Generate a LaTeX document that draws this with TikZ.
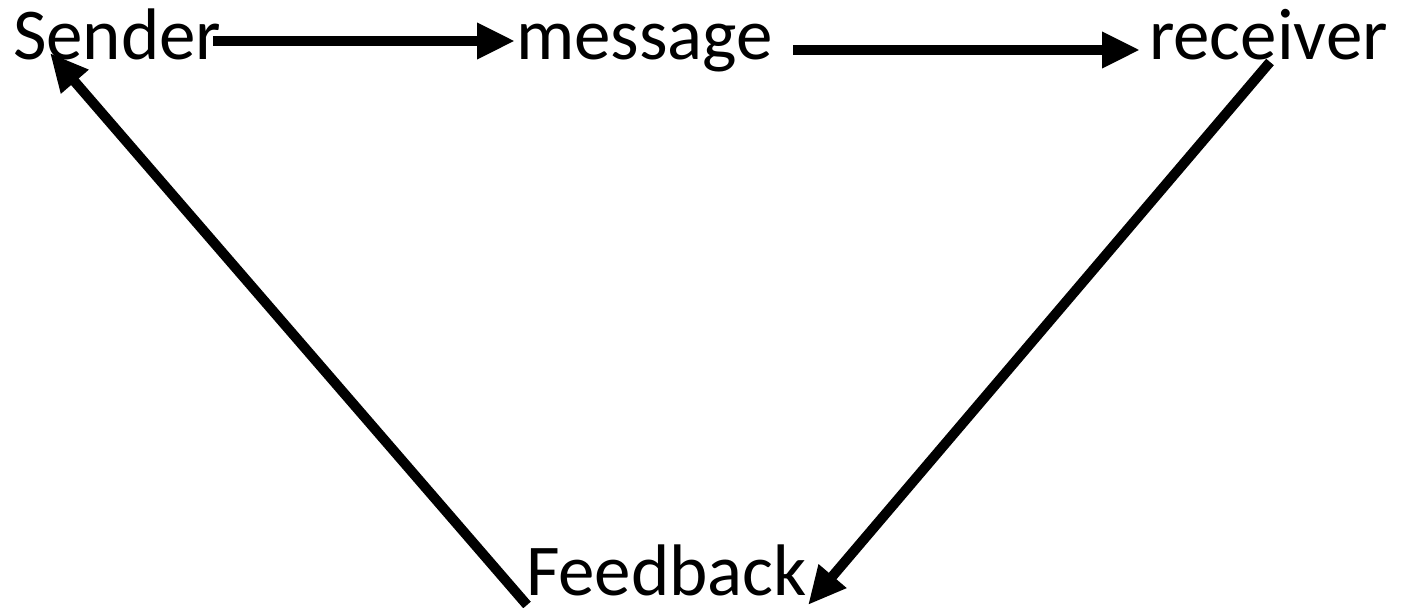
\documentclass[tikz,border=0pt]{standalone}
\usepackage{fontspec}
\setmainfont{Carlito}
\usetikzlibrary{arrows.meta,calc}
\begin{document}
\begin{tikzpicture}[x=0.5pt,y=-0.5pt,
  lbl/.style={anchor=base west,inner sep=0pt,outer sep=0pt,font=\fontsize{36.5pt}{40pt}\selectfont},
  arr/.style={line width=5pt,-{Triangle[length=19pt,width=17pt]}}]
\useasboundingbox (0,0) rectangle (1406,608);
\node[lbl] (s) at (13,60) {Sender};
\node[lbl] (m) at (516,60) {message};
\node[lbl] (r) at (1149,60) {receiver};
\node[lbl] (f) at (526,595) {Feedback};
\draw[arr] ($(s.base west)+(200,-19)$) -- ($(m.base west)+(-1,-19)$);
\draw[arr] ($(m.base west)+(277,-10)$) -- ($(r.base west)+(-9,-10)$);
\draw[arr] ($(r.base west)+(121,2)$) -- ($(f.base west)+(282,10)$);
\draw[arr] ($(f.base west)+(1,10)$) -- ($(s.base west)+(37,-7)$);
\end{tikzpicture}
\end{document}
